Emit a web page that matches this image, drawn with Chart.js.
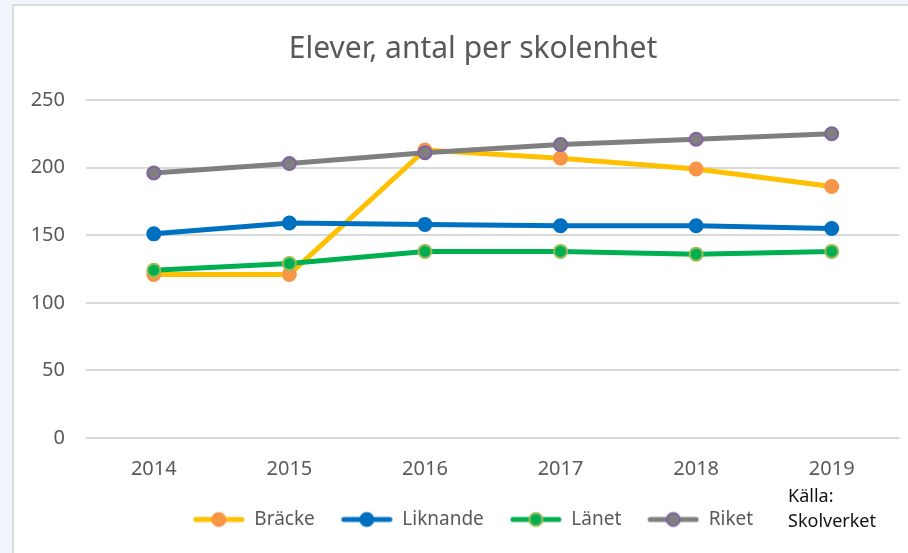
<!DOCTYPE html>
<html>
<head>
<meta charset="utf-8">
<script src="https://cdn.jsdelivr.net/npm/chart.js@4/dist/chart.umd.min.js"></script>
<style>
  html, body { margin: 0; padding: 0; background: #f2f5fa; }
  #wrap { width: 908px; height: 553px; position: relative; }
</style>
</head>
<body>
<div id="wrap"><canvas id="myChart" width="908" height="553"></canvas></div>
<script>
const years = ["2014", "2015", "2016", "2017", "2018", "2019"];
const bracke = [121, 121, 213, 207, 199, 186];
const liknande = [151, 159, 158, 157, 157, 155];
const lanet = [124, 129, 138, 138, 136, 138];
const riket = [196, 203, 211, 217, 221, 225];
const yTicks = [0, 50, 100, 150, 200, 250];

const FONT = "'Noto Sans', 'Open Sans', sans-serif";
const GREY_TEXT = "#595959";

// small line + marker picture for each legend entry
const legendIcon = (line, fill, border) => {
  const c = document.createElement("canvas");
  c.width = 52;
  c.height = 18;
  const ctx = c.getContext("2d");
  ctx.strokeStyle = line;
  ctx.lineWidth = 5;
  ctx.lineCap = "round";
  ctx.beginPath();
  ctx.moveTo(3, 9);
  ctx.lineTo(49, 9);
  ctx.stroke();
  ctx.beginPath();
  ctx.arc(26, 9, 6.5, 0, Math.PI * 2);
  ctx.fillStyle = fill;
  ctx.fill();
  ctx.lineWidth = 2;
  ctx.strokeStyle = border;
  ctx.stroke();
  return c;
};

const series = [
  { label: "Bräcke", data: bracke, line: "#FFC000", fill: "#F79646", border: "#F79646", order: 4 },
  { label: "Liknande", data: liknande, line: "#0070C0", fill: "#0070C0", border: "#0070C0", order: 3 },
  { label: "Länet", data: lanet, line: "#00B050", fill: "#00B050", border: "#9BBB59", order: 2 },
  { label: "Riket", data: riket, line: "#7F7F7F", fill: "#7F7F7F", border: "#8064A2", order: 1 },
];

const panel = {
  id: "panel",
  afterLayout(chart) {
    // let the y labels run left of the narrow axis box without clipping
    chart.scales.y.left = 0;
  },
  beforeDraw(chart) {
    const ctx = chart.ctx;
    ctx.save();
    ctx.fillStyle = "#f2f5fa";
    ctx.fillRect(0, 0, chart.width, chart.height);
    ctx.fillStyle = "#dcdcdc";
    ctx.fillRect(12, 4, chart.width - 12, chart.height - 4);
    ctx.fillStyle = "#ffffff";
    ctx.fillRect(14, 6, chart.width - 14, chart.height - 6);
    ctx.restore();
  },
  afterDraw(chart) {
    const ctx = chart.ctx;
    ctx.save();
    ctx.fillStyle = "#111111";
    ctx.font = "18px " + FONT;
    ctx.textBaseline = "middle";
    ctx.textAlign = "left";
    ctx.fillText("Källa:", 788, 497);
    ctx.fillText("Skolverket", 788, 522);
    ctx.restore();
  },
};

new Chart("myChart", {
  type: "line",
  data: {
    labels: years,
    datasets: series.map((s) => ({
      label: s.label,
      data: s.data,
      order: s.order,
      borderColor: s.line,
      backgroundColor: s.fill,
      borderWidth: 5,
      tension: 0,
      pointRadius: 6.5,
      pointHoverRadius: 6.5,
      pointBackgroundColor: s.fill,
      pointBorderColor: s.border,
      pointBorderWidth: 2,
      icon: legendIcon(s.line, s.fill, s.border),
    })),
  },
  plugins: [panel],
  options: {
    responsive: false,
    animation: false,
    layout: { padding: { top: 31, left: 46, right: 8, bottom: 14 } },
    plugins: {
      title: {
        display: true,
        text: "Elever, antal per skolenhet",
        color: GREY_TEXT,
        font: { family: FONT, size: 30, weight: "normal", lineHeight: 1.2 },
        padding: { top: 0, bottom: 33 },
      },
      legend: {
        position: "bottom",
        labels: {
          usePointStyle: true,
          pointStyleWidth: 52,
          padding: 26,
          color: GREY_TEXT,
          font: { family: FONT, size: 19 },
          generateLabels: (chart) =>
            chart.data.datasets.map((ds, i) => ({
              text: ds.label,
              pointStyle: ds.icon,
              fillStyle: ds.backgroundColor,
              strokeStyle: ds.borderColor,
              lineWidth: 0,
              fontColor: GREY_TEXT,
              hidden: false,
              datasetIndex: i,
            })),
        },
      },
      tooltip: { enabled: false },
    },
    scales: {
      x: {
        offset: true,
        afterFit: (scale) => { scale.height = 46; },
        grid: { display: false, drawTicks: false },
        border: { display: false },
        ticks: {
          padding: 19,
          color: GREY_TEXT,
          font: { family: FONT, size: 20 },
        },
      },
      y: {
        min: 0,
        max: 250,
        afterFit: (scale) => { scale.width = 40; },
        afterBuildTicks: (scale) => { scale.ticks = yTicks.map((v) => ({ value: v })); },
        grid: { color: "#d9d9d9", lineWidth: 2, drawTicks: false },
        border: { display: false },
        ticks: {
          padding: 21,
          color: GREY_TEXT,
          font: { family: FONT, size: 20 },
        },
      },
    },
  },
});
</script>
</body>
</html>
